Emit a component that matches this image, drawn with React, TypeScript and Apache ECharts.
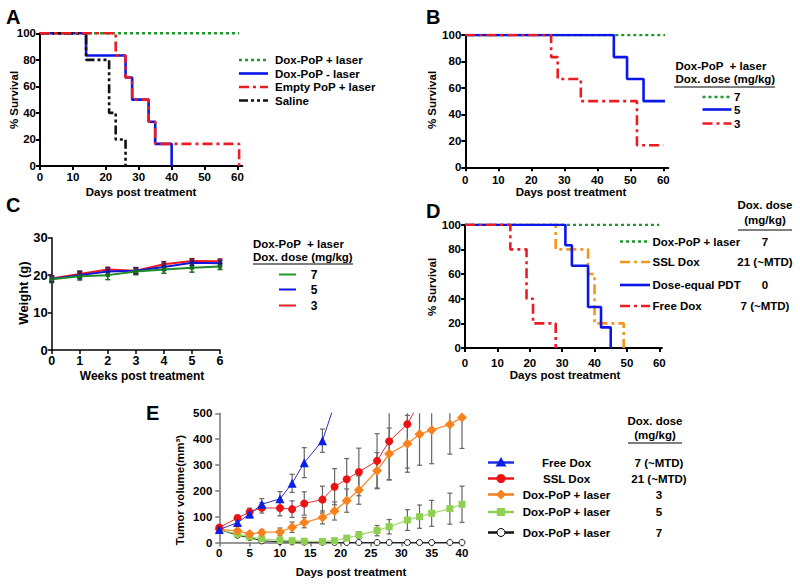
import React, { useEffect, useRef } from "react";
import * as echarts from "echarts";

const FONT = "'Liberation Sans', Arial, Helvetica, sans-serif";
const GREEN = "#1e9a2c";
const BLUE = "#0b17e8";
const RED = "#ec1c24";
const ORANGE = "#f7941d";
const BLACK = "#111111";

// ---------- Panel A ----------
const aLabels = ["Dox-PoP + laser", "Dox-PoP - laser", "Empty PoP + laser", "Saline"];
const aDoxPopLaser = [[0, 100], [60.5, 100]];
const aDoxPopNoLaser = [[0, 100], [14, 83.3], [26, 66.7], [28, 50], [33, 33.3], [35, 16.7], [40, 0]];
const aEmptyPop = [[0, 100], [23, 83.3], [26, 66.7], [28, 50], [33, 33.3], [35, 16.7], [60.5, 0]];
const aSaline = [[0, 100], [14, 80], [21, 40], [23, 20], [26, 0]];

// ---------- Panel B ----------
const bHeader = ["Dox-PoP  + laser", "Dox. dose (mg/kg)"];
const bLabels = ["7", "5", "3"];
const bDose7 = [[0, 100], [60.5, 100]];
const bDose5 = [[0, 100], [45, 83.3], [49, 66.7], [54, 50], [60.5, 50]];
const bDose3 = [[0, 100], [26, 83.3], [28, 66.7], [35, 50], [52, 16.7], [60, 16.7]];

// ---------- Panel C ----------
const cWeeks = [0, 1, 2, 3, 4, 5, 6];
const cLabels = ["7", "5", "3"];
const cDose7 = [18.9, 19.7, 20.0, 21.0, 21.5, 22.0, 22.3];
const cDose7Err = [0.9, 1.0, 1.2, 0.9, 1.0, 1.2, 0.8];
const cDose5 = [19.0, 20.0, 21.0, 21.2, 22.2, 23.3, 23.2];
const cDose5Err = [0.8, 0.9, 0.8, 0.8, 0.9, 0.7, 0.7];
const cDose3 = [19.1, 20.3, 21.5, 21.2, 22.9, 23.8, 23.7];
const cDose3Err = [0.7, 0.8, 0.6, 0.8, 0.7, 0.6, 0.6];

// ---------- Panel D ----------
const dLabels = ["Dox-PoP + laser", "SSL Dox", "Dose-equal PDT", "Free Dox"];
const dDoses = ["7", "21 (~MTD)", "0", "7 (~MTD)"];
const dDoxPop = [[0, 100], [60, 100]];
const dSSL = [[0, 100], [28, 80], [38, 60], [40, 20], [49, 0]];
const dPDT = [[0, 100], [31, 83.3], [33, 66.7], [38, 33.3], [42, 16.7], [45, 0]];
const dFree = [[0, 100], [14, 80], [19, 40], [21, 20], [28, 0]];

// ---------- Panel E ----------
const eLabels = ["Free Dox", "SSL Dox", "Dox-PoP + laser", "Dox-PoP + laser", "Dox-PoP + laser"];
const eDoses = ["7 (~MTD)", "21 (~MTD)", "3", "5", "7"];
const eDays = [0, 3, 5, 7, 10, 12, 14, 17, 19, 21, 23, 26, 28, 31, 33, 35, 38, 40];
const eFreeDox = [50, 77, 110, 148, 169, 229, 309, 394, 535];
const eFreeDoxErr = [6, 8, 15, 22, 28, 35, 58, 45, 0];
const eSSL = [58, 95, 118, 134, 133, 129, 151, 166, 216, 245, 273, 316, 392, 458, 545];
const eSSLErr = [8, 10, 15, 20, 30, 32, 45, 52, 70, 80, 92, 105, 150, 170, 0];
const eDose3 = [51, 45, 33, 39, 41, 59, 77, 97, 122, 162, 203, 278, 343, 382, 419, 435, 457, 484];
const eDose3Err = [5, 8, 8, 10, 15, 20, 20, 25, 35, 45, 55, 70, 100, 110, 120, 130, 115, 120];
const eDose5 = [50, 33, 22, 14, 9, 7, 5, 4, 7, 17, 29, 46, 61, 87, 100, 113, 131, 148];
const eDose5Err = [3, 4, 4, 4, 4, 4, 3, 3, 5, 8, 12, 20, 28, 40, 45, 50, 60, 70];
const eDose7 = [50, 28, 19, 6, 3, 2, 1, 1, 0, 0, 0, 0, 0, 0, 0, 0, 0, 0];
const eDose7Err = [3, 3, 3, 2, 1, 1, 0, 0, 0, 0, 0, 0, 0, 0, 0, 0, 0, 0];

// ---------- ticks ----------
const dayTicks = [0, 10, 20, 30, 40, 50, 60];
const weekTicks = [0, 1, 2, 3, 4, 5, 6];
const eDayTicks = [0, 5, 10, 15, 20, 25, 30, 35, 40];

const DOT = [3, 3];
const DASHDOT = [10, 4, 3, 4];
const DASHDOTDOT = [9, 3, 3, 3, 3, 3];

function lbl(size: number, margin: number, extra: any = {}) {
  return { color: "#000", fontWeight: "bold", fontSize: size, fontFamily: FONT, margin, ...extra };
}

function xAx(grid: number, max: number, ticks: number[], color: string, lw: number, size: number, margin: number) {
  return {
    type: "value", gridIndex: grid, min: 0, max,
    axisLine: { show: true, onZero: false, lineStyle: { color, width: lw } },
    axisTick: { show: true, length: 4, lineStyle: { color, width: lw }, customValues: ticks },
    axisLabel: lbl(size, margin, { customValues: ticks }),
    splitLine: { show: false },
  };
}
function yAx(grid: number, max: number, interval: number, color: string, lw: number, size: number, margin: number) {
  return {
    type: "value", gridIndex: grid, min: 0, max, interval,
    axisLine: { show: true, onZero: false, lineStyle: { color, width: lw } },
    axisTick: { show: true, length: 4, lineStyle: { color, width: lw } },
    axisLabel: lbl(size, margin),
    splitLine: { show: false },
  };
}

function stepSeries(name: string, idx: number, data: number[][], color: string, dash: any, z = 3) {
  return {
    name, type: "line", xAxisIndex: idx, yAxisIndex: idx, data, step: "end",
    symbol: "none", z,
    lineStyle: { color, width: 2.6, type: dash, cap: "butt" },
  };
}

function errSeries(idx: number, xs: number[], ys: number[], errs: number[], color: string, lw: number, cap: number, z = 1) {
  return {
    type: "custom", xAxisIndex: idx, yAxisIndex: idx, z, silent: true,
    encode: { x: 0, y: [1, 2] },
    data: ys.map((v, i) => [xs[i], v - errs[i], v + errs[i]]),
    renderItem: (params: any, api: any) => {
      const x = api.value(0);
      const lo = api.coord([x, api.value(1)]);
      const hi = api.coord([x, api.value(2)]);
      const cs = params.coordSys;
      const top = Math.max(hi[1], cs.y);
      const bot = Math.min(lo[1], cs.y + cs.height);
      const children: any[] = [];
      if (bot - top > 0.5) {
        children.push({ type: "line", shape: { x1: lo[0], y1: top, x2: lo[0], y2: bot }, style: { stroke: color, lineWidth: lw } });
        if (hi[1] >= cs.y) children.push({ type: "line", shape: { x1: lo[0] - cap, y1: hi[1], x2: lo[0] + cap, y2: hi[1] }, style: { stroke: color, lineWidth: lw } });
        if (lo[1] <= cs.y + cs.height) children.push({ type: "line", shape: { x1: lo[0] - cap, y1: lo[1], x2: lo[0] + cap, y2: lo[1] }, style: { stroke: color, lineWidth: lw } });
      }
      return { type: "group", children };
    },
  };
}

function tx(text: string, x: number, y: number, o: any = {}) {
  const align = o.align || "left";
  return {
    type: "text", x, y, rotation: o.rot || 0, z: 100,
    style: {
      text, fill: "#000", fontSize: o.size || 11.5, fontWeight: "bold", fontFamily: FONT,
      align, verticalAlign: "middle", textAlign: align, textVerticalAlign: "middle",
    },
  };
}
function ln(x1: number, y1: number, x2: number, y2: number, stroke: string, lw: number, dash?: number[]) {
  return { type: "line", z: 100, shape: { x1, y1, x2, y2 }, style: { stroke, lineWidth: lw, lineDash: dash || null } };
}

export default function App() {
  const ref = useRef<HTMLDivElement>(null);
  useEffect(() => {
    if (!ref.current) return;
    const chart = echarts.init(ref.current, undefined, { renderer: "svg" });

    const eX = (n: number) => eDays.slice(0, n);
    const toXY = (xs: number[], ys: number[]) => ys.map((v, i) => [xs[i], v]);

    const graphic: any[] = [];
    // panel letters
    graphic.push(tx("A", 6, 17, { size: 20 }), tx("B", 426, 17, { size: 20 }), tx("C", 6, 205, { size: 20 }),
      tx("D", 426, 211, { size: 20 }), tx("E", 146, 413, { size: 20 }));
    // axis titles
    const R = Math.PI / 2;
    graphic.push(
      tx("% Survival", 14, 100, { align: "center", rot: R }),
      tx("Days post treatment", 141, 192, { align: "center" }),
      tx("% Survival", 432, 100, { align: "center", rot: R }),
      tx("Days post treatment", 571, 192, { align: "center" }),
      tx("Weight (g)", 23, 293, { align: "center", rot: R, size: 13 }),
      tx("Weeks post treatment", 142, 375.5, { align: "center", size: 12 }),
      tx("% Survival", 432, 287, { align: "center", rot: R }),
      tx("Days post treatment", 565, 375, { align: "center" }),
      tx("Tumor volume(mm³)", 180, 490, { align: "center", rot: R }),
      tx("Days post treatment", 351, 572, { align: "center" }),
    );
    // legend A
    const aStyles: any[] = [[GREEN, DOT], [BLUE, null], [RED, DASHDOT], [BLACK, DASHDOTDOT]];
    const aRows = [60, 73.5, 87, 100.5];
    aLabels.forEach((t, i) => {
      graphic.push(ln(239, aRows[i], 268, aRows[i], aStyles[i][0], 2.6, aStyles[i][1]));
      graphic.push(tx(t, 275, aRows[i]));
    });
    // legend B
    graphic.push(tx(bHeader[0], 675.5, 65.5), tx(bHeader[1], 675.5, 79), ln(674, 87, 775, 87, "#000", 1));
    const bStyles: any[] = [[GREEN, DOT], [BLUE, null], [RED, DASHDOT]];
    const bRows = [97, 109.5, 123.5];
    bLabels.forEach((t, i) => {
      graphic.push(ln(702.5, bRows[i], 731.5, bRows[i], bStyles[i][0], 2.6, bStyles[i][1]));
      graphic.push(tx(t, 734, bRows[i]));
    });
    // legend C
    graphic.push(tx(bHeader[0], 253, 243.5), tx(bHeader[1], 253, 257), ln(253, 264, 353, 264, "#000", 1));
    const cCols = [GREEN, BLUE, RED];
    const cRows = [274.5, 289.5, 305.5];
    cLabels.forEach((t, i) => {
      graphic.push(ln(279, cRows[i], 296, cRows[i], cCols[i], 2));
      graphic.push(tx(t, 314, cRows[i], { align: "center", size: 12 }));
    });
    // legend D
    graphic.push(tx("Dox. dose", 765, 205, { align: "center" }), tx("(mg/kg)", 765, 219.5, { align: "center" }),
      ln(738, 230, 792, 230, "#000", 1));
    const dStyles: any[] = [[GREEN, DOT], [ORANGE, DASHDOT], [BLUE, null], [RED, DASHDOT]];
    const dRows = [241.5, 262, 285, 306];
    dLabels.forEach((t, i) => {
      graphic.push(ln(620, dRows[i], 650, dRows[i], dStyles[i][0], 2.6, dStyles[i][1]));
      graphic.push(tx(t, 652.5, dRows[i]));
      graphic.push(tx(dDoses[i], 765, dRows[i], { align: "center" }));
    });
    // legend E
    graphic.push(tx("Dox. dose", 655, 420.5, { align: "center" }), tx("(mg/kg)", 655, 434.5, { align: "center" }),
      ln(628, 443, 682, 443, "#000", 1));
    const eRows = [462.5, 478.5, 494.5, 512, 532.5];
    const eLineCols = ["#1f2fe0", "#e8141c", "#f57f20", "#8fd050", "#111"];
    eLabels.forEach((t, i) => {
      const y = eRows[i];
      graphic.push(ln(488, y, 514, y, eLineCols[i], 2.5));
      const cx = 501;
      if (i === 0) graphic.push({ type: "polygon", z: 101, shape: { points: [[cx, y - 5.5], [cx - 5.5, y + 4], [cx + 5.5, y + 4]] }, style: { fill: "#0b1fe6" } });
      if (i === 1) graphic.push({ type: "circle", z: 101, shape: { cx, cy: y, r: 4.5 }, style: { fill: "#ee1111" } });
      if (i === 2) graphic.push({ type: "polygon", z: 101, shape: { points: [[cx, y - 5], [cx + 5, y], [cx, y + 5], [cx - 5, y]] }, style: { fill: "#f7821e" } });
      if (i === 3) graphic.push({ type: "rect", z: 101, shape: { x: cx - 4, y: y - 4, width: 8, height: 8 }, style: { fill: "#8fd050" } });
      if (i === 4) graphic.push({ type: "circle", z: 101, shape: { cx, cy: y, r: 4 }, style: { fill: "#fff", stroke: "#000", lineWidth: 1 } });
      graphic.push(tx(t, 566.5, y, { align: "center" }));
      graphic.push(tx(eDoses[i], 659, y, { align: "center" }));
    });

    const option: any = {
      animation: false,
      backgroundColor: "#ffffff",
      grid: [
        { left: 40, top: 33.3, width: 202.4, height: 132.7 },
        { left: 465.3, top: 35, width: 203, height: 132.3 },
        { left: 51.7, top: 237.7, width: 168.3, height: 112.3 },
        { left: 465, top: 224.7, width: 196.9, height: 123.3 },
        { left: 219.3, top: 413.3, width: 242.7, height: 129.2 },
      ],
      xAxis: [
        xAx(0, 61.5, dayTicks, "#000", 2, 11.5, 5),
        xAx(1, 61.5, dayTicks, "#000", 2, 11.5, 7),
        xAx(2, 6, weekTicks, "#000", 1.5, 12.5, 4),
        xAx(3, 60.8, dayTicks, "#000", 2, 11.5, 9),
        xAx(4, 40, eDayTicks, "#777", 1.5, 11.5, 4),
      ],
      yAxis: [
        yAx(0, 100, 20, "#000", 2, 11.5, 4),
        yAx(1, 100, 20, "#000", 2, 11.5, 4),
        yAx(2, 30, 10, "#000", 1.5, 13, 4),
        yAx(3, 100, 20, "#000", 2, 11.5, 4),
        yAx(4, 500, 100, "#777", 1.5, 11.5, 7),
      ],
      series: [
        stepSeries(aLabels[0], 0, aDoxPopLaser, GREEN, DOT),
        stepSeries(aLabels[1], 0, aDoxPopNoLaser, BLUE, "solid"),
        stepSeries(aLabels[2], 0, aEmptyPop, RED, DASHDOT, 4),
        stepSeries(aLabels[3], 0, aSaline, BLACK, DASHDOTDOT),

        stepSeries("B 7", 1, bDose7, GREEN, DOT),
        stepSeries("B 5", 1, bDose5, BLUE, "solid"),
        stepSeries("B 3", 1, bDose3, RED, DASHDOT),

        errSeries(2, cWeeks, cDose7, cDose7Err, "#14701f", 1.5, 2.5, 2),
        errSeries(2, cWeeks, cDose5, cDose5Err, "#1a1a90", 1.5, 2.5, 2),
        errSeries(2, cWeeks, cDose3, cDose3Err, "#5a1a40", 1.5, 2.5, 2),
        { name: "C 3", type: "line", xAxisIndex: 2, yAxisIndex: 2, data: toXY(cWeeks, cDose3), symbol: "rect", symbolSize: 4, z: 3,
          lineStyle: { color: "#f01818", width: 2 }, itemStyle: { color: "#7a1a40" } },
        { name: "C 5", type: "line", xAxisIndex: 2, yAxisIndex: 2, data: toXY(cWeeks, cDose5), symbol: "rect", symbolSize: 4, z: 3,
          lineStyle: { color: "#1414e0", width: 2 }, itemStyle: { color: "#1a1a90" } },
        { name: "C 7", type: "line", xAxisIndex: 2, yAxisIndex: 2, data: toXY(cWeeks, cDose7), symbol: "rect", symbolSize: 4, z: 3,
          lineStyle: { color: "#1e8a28", width: 2 }, itemStyle: { color: "#14701f" } },

        stepSeries(dLabels[0], 3, dDoxPop, GREEN, DOT),
        stepSeries(dLabels[1], 3, dSSL, ORANGE, DASHDOT),
        stepSeries(dLabels[2], 3, dPDT, BLUE, "solid"),
        stepSeries(dLabels[3], 3, dFree, RED, DASHDOT),

        errSeries(4, eX(9), eFreeDox, eFreeDoxErr, "#666", 1.2, 2.5),
        errSeries(4, eX(15), eSSL, eSSLErr, "#666", 1.2, 2.5),
        errSeries(4, eDays, eDose3, eDose3Err, "#666", 1.2, 2.5),
        errSeries(4, eDays, eDose5, eDose5Err, "#666", 1.2, 2.5),
        errSeries(4, eDays, eDose7, eDose7Err, "#666", 1.2, 2.5),
        { name: eLabels[4] + " 7", type: "line", xAxisIndex: 4, yAxisIndex: 4, data: toXY(eDays, eDose7), z: 3,
          symbol: "circle", symbolSize: 6, lineStyle: { color: "#222", width: 1 },
          itemStyle: { color: "#fff", borderColor: "#222", borderWidth: 1 } },
        { name: eLabels[3] + " 5", type: "line", xAxisIndex: 4, yAxisIndex: 4, data: toXY(eDays, eDose5), z: 4,
          symbol: "rect", symbolSize: 7, lineStyle: { color: "#a6d87a", width: 1.3 }, itemStyle: { color: "#8fd050" } },
        { name: eLabels[2] + " 3", type: "line", xAxisIndex: 4, yAxisIndex: 4, data: toXY(eDays, eDose3), z: 5,
          symbol: "diamond", symbolSize: 10, lineStyle: { color: "#f7892a", width: 1.3 }, itemStyle: { color: "#f7821e" } },
        { name: eLabels[1], type: "line", xAxisIndex: 4, yAxisIndex: 4, data: toXY(eX(15), eSSL), z: 6,
          symbol: "circle", symbolSize: 8, lineStyle: { color: "#d83038", width: 1 }, itemStyle: { color: "#ee1111" } },
        { name: eLabels[0], type: "line", xAxisIndex: 4, yAxisIndex: 4, data: toXY(eX(9), eFreeDox), z: 7,
          symbol: "triangle", symbolSize: 9, lineStyle: { color: "#3434c0", width: 1 }, itemStyle: { color: "#0b1fe6" } },
      ],
      graphic,
    };
    chart.setOption(option);
    return () => chart.dispose();
  }, []);
  return <div ref={ref} style={{ position: "fixed", left: 0, top: 0, width: 800, height: 586, background: "#fff" }} />;
}
